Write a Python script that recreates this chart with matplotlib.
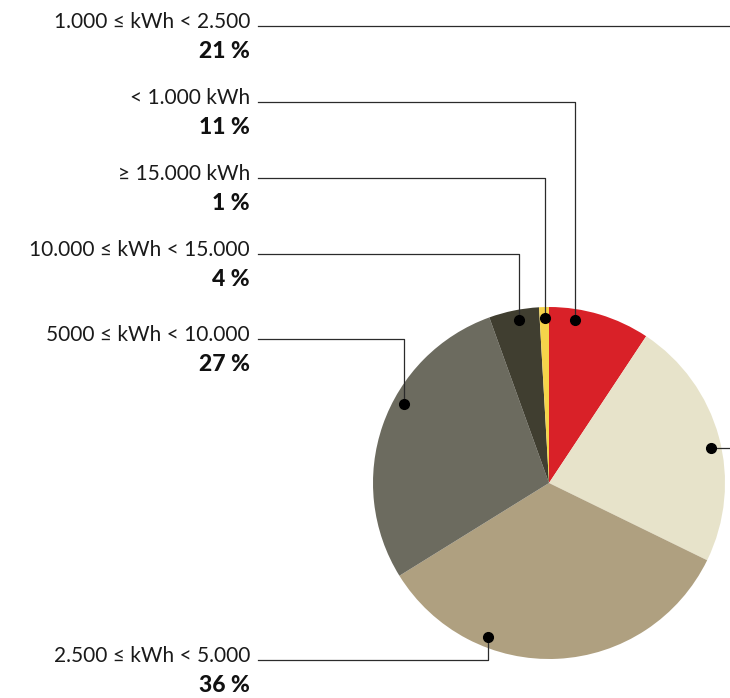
import numpy as np
import matplotlib
matplotlib.use("Agg")
import matplotlib.pyplot as plt

# slices clockwise from 12 o'clock
categories = ["< 1.000 kWh", "1.000 ≤ kWh < 2.500", "2.500 ≤ kWh < 5.000",
              "5000 ≤ kWh < 10.000", "10.000 ≤ kWh < 15.000", "≥ 15.000 kWh"]
shares = [9.3, 22.9, 33.9, 28.3, 4.6, 0.9]          # drawn slice sizes
pct_labels = ["11 %", "21 %", "36 %", "27 %", "4 %", "1 %"]
colors = ["#D92128", "#E7E3CA", "#AFA080", "#6C6B5F", "#403E30", "#F5D44A"]

# where each label sits (pixel y from the top) and the angle of its dot
label_y = [104, 28, 662, 341, 256, 180]
dot_angle = [9.2, 77.7, 201.7, 298.7, 349.6, 358.6]  # degrees clockwise from top

W, H = 730, 698
cx, cy, R = 549, H - 483, 176
text_x = 250
line_x = 258
font = ["Lato", "DejaVu Sans"]
ink = "#2b2b2b"

fig = plt.figure(figsize=(W / 100, H / 100), dpi=100)
ax = fig.add_axes([0, 0, 1, 1])

ax.pie(shares, colors=colors, startangle=90, counterclock=False,
       center=(cx, cy), radius=R, wedgeprops=dict(linewidth=0))

for i, name in enumerate(categories):
    ty = H - label_y[i]
    ax.text(text_x, ty, name, ha="right", va="baseline", fontsize=15,
            family=font, color="#1a1a1a")
    ax.text(text_x, ty - 30, pct_labels[i], ha="right", va="baseline",
            fontsize=16.5, fontweight="black", family=font, color="#111111")

    a = np.radians(dot_angle[i])
    dx = cx + 0.94 * R * np.sin(a)
    dy = cy + 0.94 * R * np.cos(a)
    ly = ty + 2
    if i == 1:
        # leader goes off to the right edge, the label line runs along the top
        ax.plot([dx, W], [dy, dy], color=ink, lw=0.9)
        ax.plot([line_x, W], [ly, ly], color=ink, lw=0.9)
    else:
        ax.plot([dx, dx, line_x], [dy, ly, ly], color=ink, lw=0.9)
    ax.plot(dx, dy, "o", color="black", markersize=7)

ax.set_xlim(0, W)
ax.set_ylim(0, H)
ax.set_aspect("equal")
ax.axis("off")

fig.savefig("out.png", dpi=100)
